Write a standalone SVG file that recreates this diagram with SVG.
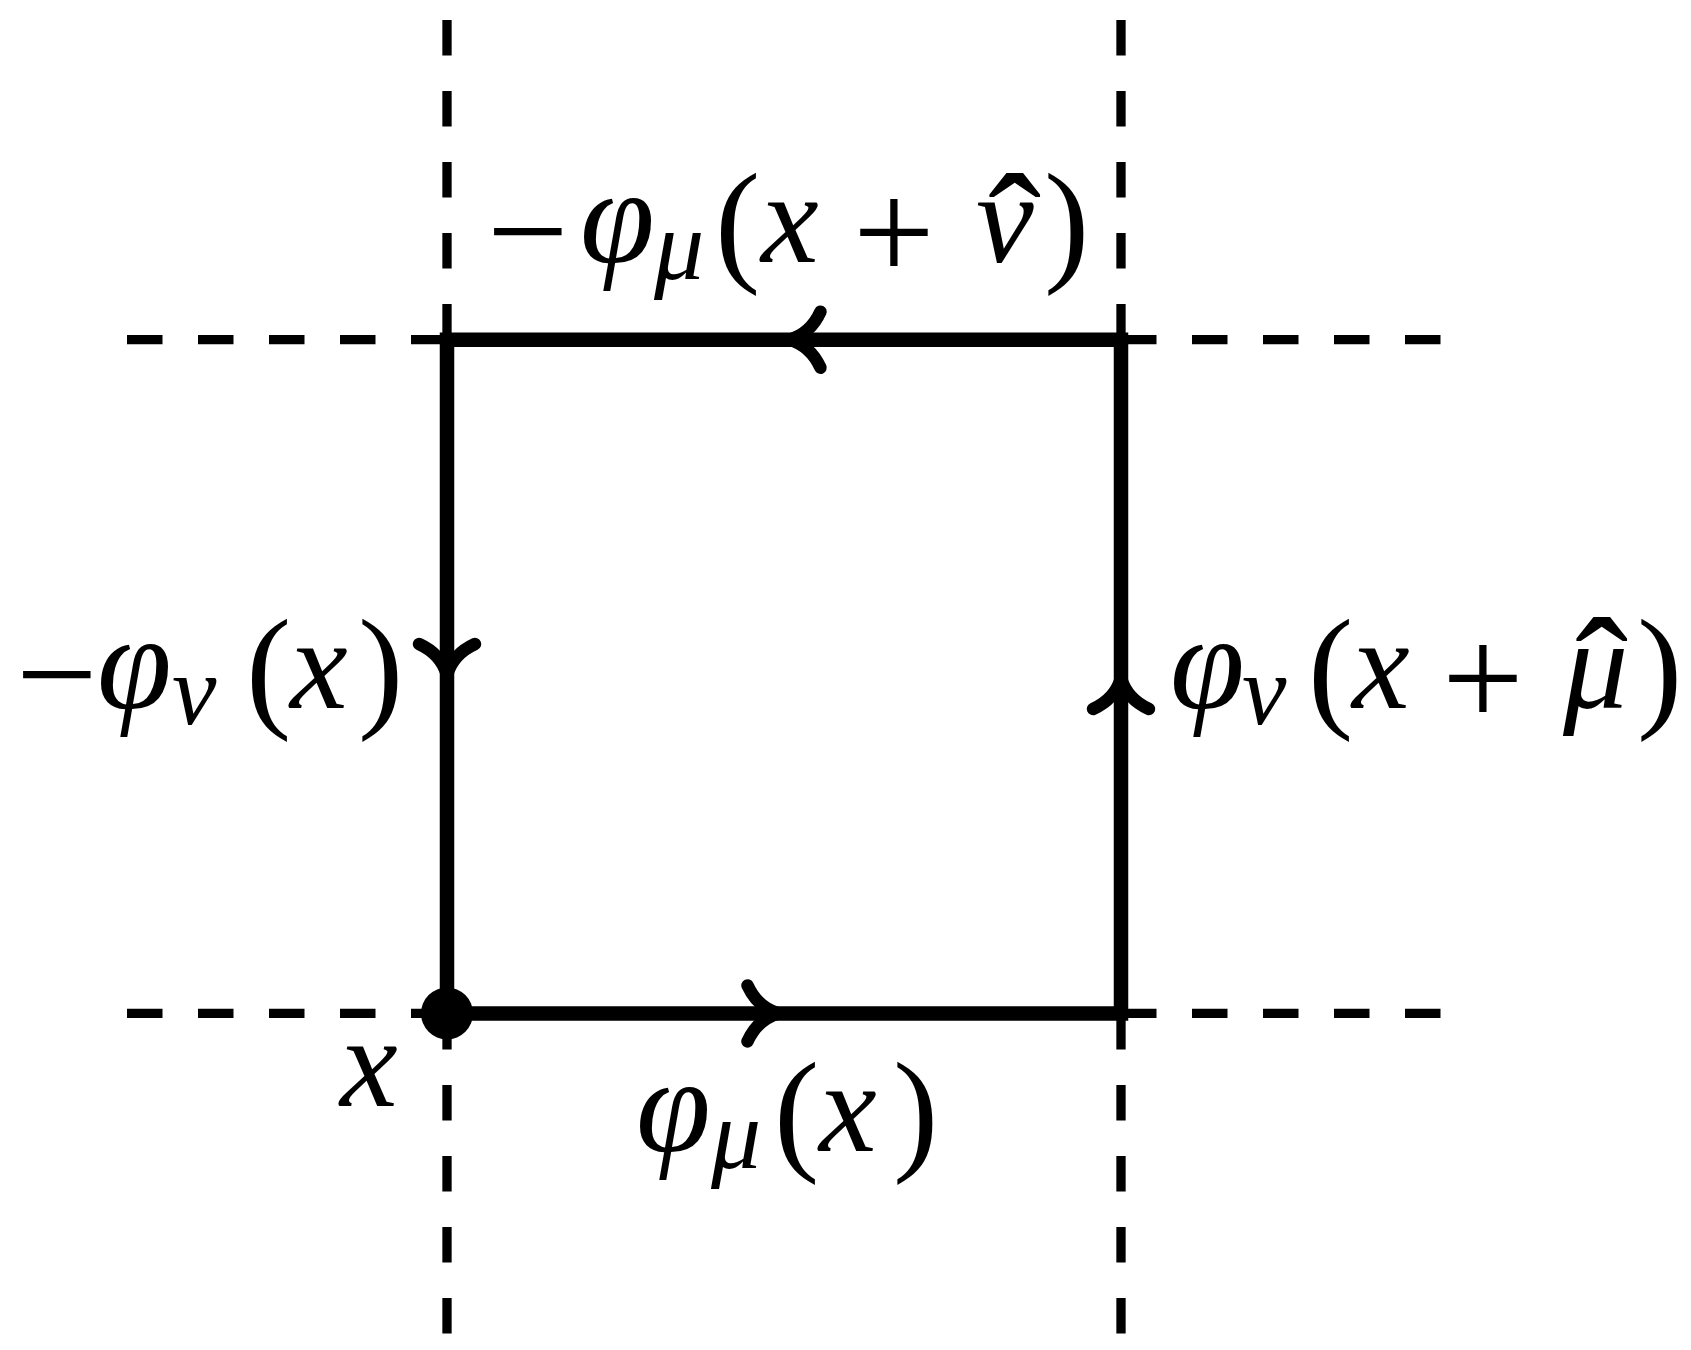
<svg xmlns="http://www.w3.org/2000/svg" width="1691" height="1350" viewBox="0 0 1691 1350">
<style>
.dash{stroke:#000;stroke-width:9.3;stroke-dasharray:35.5 35.5;fill:none}
.edge{stroke:#000;stroke-width:14.5;fill:none;stroke-linejoin:miter}
.ah{stroke:#000;stroke-width:12.5;fill:none;stroke-linecap:round;stroke-linejoin:round}
text{font-family:"Liberation Serif","DejaVu Serif",serif;fill:#000}
.ph{font-style:italic;font-size:135px}
.it{font-style:italic;font-size:130px}
.sub{font-style:italic;font-size:100px}
.op{font-style:normal;font-size:145px}
.par{font-style:normal;font-size:136px}
.hat{font-style:normal;font-size:160px}
</style>
<defs>
<path id="arrowhead" d="M-31,-28 Q-21,-6 0,0 Q-21,6 -31,28"/>
</defs>
<rect width="1691" height="1350" fill="#fff"/>
<g id="grid">
<line class="dash" x1="447" y1="20" x2="447" y2="1333.5"/>
<line class="dash" x1="1121" y1="20" x2="1121" y2="1333.5"/>
<line class="dash" x1="127" y1="339.7" x2="1440.5" y2="339.7"/>
<line class="dash" x1="127" y1="1013.4" x2="1440.5" y2="1013.4"/>
</g>
<g id="connectors">
<path class="edge" d="M447,339.7 H1121 V1013.4 H447 Z"/>
<use href="#arrowhead" class="ah" transform="translate(778.5,1013.4)"/>
<use href="#arrowhead" class="ah" transform="translate(789.5,339.7) rotate(180)"/>
<use href="#arrowhead" class="ah" transform="translate(447,675) rotate(90)"/>
<use href="#arrowhead" class="ah" transform="translate(1121,678) rotate(-90)"/>
</g>
<g id="node-x">
<circle cx="447" cy="1013.4" r="26" fill="#000"/>
<text class="it" x="340" y="1106">x</text>
</g>
<g id="label-bottom">
<text><tspan class="ph" x="636" y="1151">φ</tspan><tspan class="sub" x="711" y="1168">μ</tspan><tspan class="par" x="774" y="1156">(</tspan><tspan class="it" x="819" y="1151">x</tspan><tspan class="par" x="893" y="1156">)</tspan></text>
</g>
<g id="label-top">
<text><tspan class="op" x="487" y="280">−</tspan><tspan class="ph" x="580" y="262">φ</tspan><tspan class="sub" x="654" y="279">μ</tspan><tspan class="par" x="715" y="267">(</tspan><tspan class="it" x="761" y="262">x</tspan><tspan class="op" x="853" y="280">+</tspan><tspan class="it" x="976" y="262">ν</tspan><tspan class="hat" x="988" y="285">ˆ</tspan><tspan class="par" x="1044" y="267">)</tspan></text>
</g>
<g id="label-left">
<text><tspan class="op" x="16" y="723">−</tspan><tspan class="ph" x="97" y="708">φ</tspan><tspan class="sub" x="172" y="724">ν</tspan><tspan class="par" x="246" y="713">(</tspan><tspan class="it" x="290" y="708">x</tspan><tspan class="par" x="358" y="713">)</tspan></text>
</g>
<g id="label-right">
<text><tspan class="ph" x="1170" y="708">φ</tspan><tspan class="sub" x="1242" y="724">ν</tspan><tspan class="par" x="1308" y="713">(</tspan><tspan class="it" x="1352" y="708">x</tspan><tspan class="op" x="1442" y="726">+</tspan><tspan class="it" x="1563" y="708">μ</tspan><tspan class="hat" x="1575" y="729">ˆ</tspan><tspan class="par" x="1637" y="713">)</tspan></text>
</g>
</svg>
